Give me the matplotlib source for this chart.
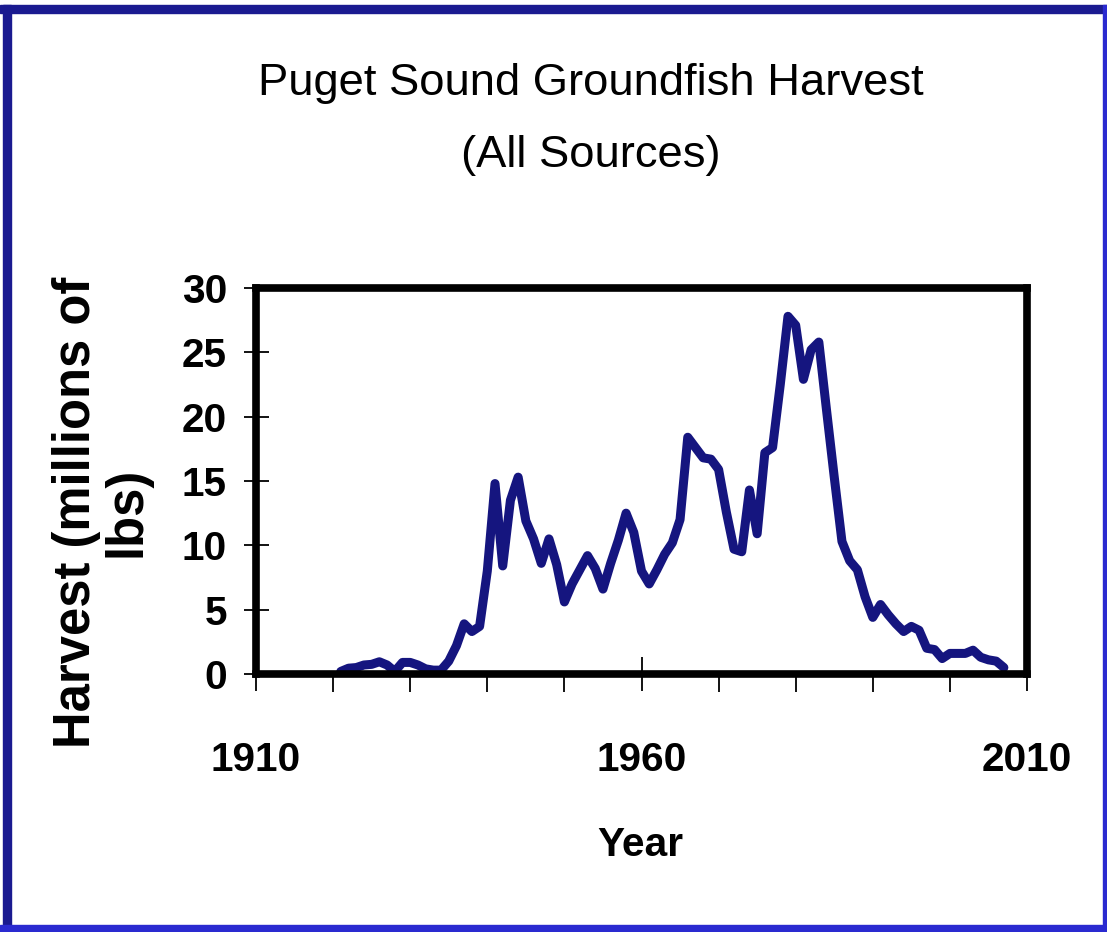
import matplotlib.pyplot as plt
from matplotlib import font_manager
from matplotlib.patches import Rectangle

# Annual groundfish harvest, Puget Sound, all sources (millions of lbs)
years = list(range(1921, 2008))
harvest = [
    0.2, 0.45, 0.5, 0.7, 0.75, 0.95, 0.7, 0.2, 0.9, 0.9,          # 1921-1930
    0.7, 0.4, 0.3, 0.3, 1.0, 2.2, 3.9, 3.3, 3.7, 8.0,             # 1931-1940
    14.8, 8.4, 13.5, 15.3, 11.9, 10.5, 8.6, 10.5, 8.5, 5.6,       # 1941-1950
    7.0, 8.1, 9.2, 8.2, 6.6, 8.6, 10.4, 12.5, 11.0, 8.0,          # 1951-1960
    7.0, 8.1, 9.3, 10.2, 12.0, 18.4, 17.6, 16.8, 16.7, 15.9,      # 1961-1970
    12.6, 9.7, 9.5, 14.3, 10.9, 17.2, 17.6, 22.5, 27.8, 27.1,     # 1971-1980
    22.9, 25.2, 25.8, 20.5, 15.3, 10.3, 8.8, 8.1, 6.0, 4.4,       # 1981-1990
    5.4, 4.6, 3.9, 3.3, 3.7, 3.4, 2.0, 1.9, 1.2, 1.6,             # 1991-2000
    1.6, 1.6, 1.85, 1.3, 1.1, 1.0, 0.5,                           # 2001-2007
]
labeled_years = [1910, 1960, 2010]
decade_ticks = list(range(1910, 2011, 10))
y_ticks = [0, 5, 10, 15, 20, 25, 30]

installed = {f.name for f in font_manager.fontManager.ttflist}
if 'Liberation Sans Narrow' in installed:
    narrow = ['Liberation Sans Narrow', 'DejaVu Sans']
    scale = 1.0
else:
    narrow = ['Liberation Sans', 'DejaVu Sans']
    scale = 0.86
wide = ['Liberation Sans', 'DejaVu Sans']

fig = plt.figure(figsize=(11.07, 9.32), dpi=100)
fig.patch.set_facecolor('white')

# frame around the slide
navy = '#1a1a90'
blue = '#2a2ad0'
W, H = 1107, 932
fig.patches.append(Rectangle((0, 1 - 13 / H), 1, 8 / H, transform=fig.transFigure,
                             color=navy, zorder=0))
fig.patches.append(Rectangle((3 / W, 0), 8 / W, 1 - 5 / H, transform=fig.transFigure,
                             color=navy, zorder=0))
fig.patches.append(Rectangle((0, 0), 1, 7 / H, transform=fig.transFigure,
                             color=blue, zorder=0))
fig.patches.append(Rectangle((1 - 4 / W, 0), 4 / W, 1 - 5 / H, transform=fig.transFigure,
                             color=blue, zorder=0))

ax = fig.add_axes([256 / W, 1 - 674 / H, 771 / W, 386 / H])
ax.plot(years, harvest, color='#15157f', linewidth=6.5, solid_joinstyle='round',
        solid_capstyle='round', zorder=2)

ax.set_xlim(1910, 2010)
ax.set_ylim(0, 30)
for s in ax.spines.values():
    s.set_linewidth(5.5)
    s.set_color('black')
    s.set_zorder(3)

ax.set_xticks(labeled_years)
ax.set_xticks([y for y in decade_ticks if y not in labeled_years], minor=True)
ax.set_xticklabels([str(y) for y in labeled_years], fontsize=34 * scale,
                   fontweight='bold', family=narrow)
ax.tick_params(axis='x', which='major', direction='inout', length=25, width=1.3,
               pad=36)
ax.tick_params(axis='x', which='minor', direction='out', length=13, width=1.3)

ax.set_yticks(y_ticks)
ax.set_yticklabels([str(v) for v in y_ticks], fontsize=34 * scale,
                   fontweight='bold', family=narrow)
ax.tick_params(axis='y', direction='inout', length=18, width=1.3, pad=12)

fig.text(591 / W, 1 - 84 / H, 'Puget Sound Groundfish Harvest', ha='center',
         va='center', fontsize=38 * scale, family=narrow)
fig.text(591 / W, 1 - 155 / H, '(All Sources)', ha='center', va='center',
         fontsize=38 * scale, family=narrow)
fig.text(640 / W, 1 - 845 / H, 'Year', ha='center', va='center',
         fontsize=34 * scale, fontweight='bold', family=narrow)
fig.text(102 / W, 1 - 512 / H, 'Harvest (millions of\nlbs)', ha='center',
         va='center', rotation=90, multialignment='center', linespacing=1.05,
         fontsize=36.5, fontweight='bold', family=wide)

fig.savefig('out.png', dpi=100)
